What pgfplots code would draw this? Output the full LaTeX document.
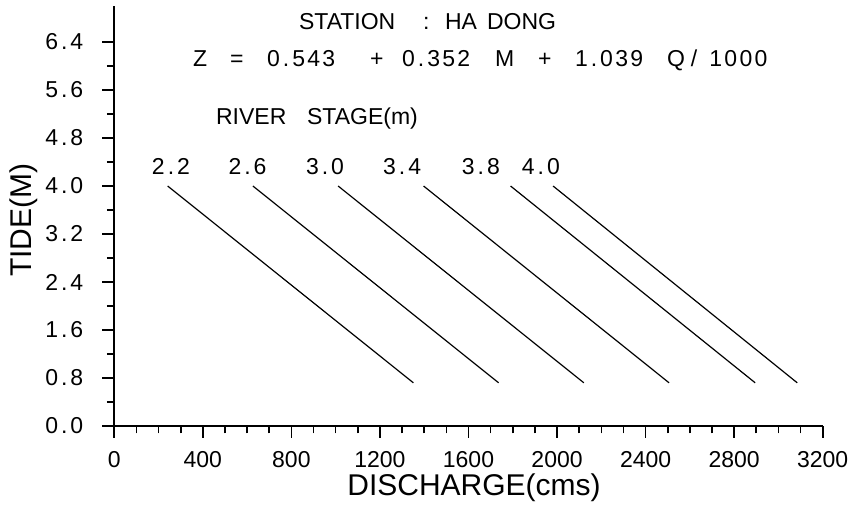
\documentclass[border=0pt]{standalone}
\usepackage{fontspec}
\setmainfont{Liberation Sans}
\usepackage{pgfplots}
\pgfplotsset{compat=1.18}
\newcommand\dt{\kern1.5pt.\kern1.5pt}
\newcommand\fs{\fontsize{11.5}{14}\selectfont}
\newcommand\wn[1]{{\addfontfeature{LetterSpace=10}#1}}
\begin{document}
\begin{tikzpicture}[font=\fs]
\path[use as bounding box] (-57.15pt,-41pt) rectangle (368.85pt,213pt);
\begin{axis}[
  at={(0,0)}, anchor=south west,
  scale only axis, width=354.2pt, height=210pt,
  xmin=0, xmax=3200, ymin=0, ymax=7.0,
  axis lines=left, axis line style={-, line width=0.9pt},
  xtick={0,400,800,1200,1600,2000,2400,2800,3200},
  ytick={0,0.8,1.6,2.4,3.2,4.0,4.8,5.6,6.4},
  minor x tick num=3, minor y tick num=1,
  tick align=outside,
  major tick length=6pt, minor tick length=3.75pt,
  tick style={line width=0.8pt, black},
  /pgf/number format/assume math mode=true,
  xticklabel style={font=\fs, yshift=-3pt, /pgf/number format/1000 sep={}},
  yticklabel style={font=\fs, xshift=-6pt, /pgf/number format/.cd, fixed, fixed zerofill, precision=1, dec sep={\kern1.5pt.\kern1.5pt}},
  clip=false,
]
\addplot[black, line width=0.6pt] coordinates {(241,4.0) (1351,0.72)};
\addplot[black, line width=0.6pt] coordinates {(626,4.0) (1736,0.72)};
\addplot[black, line width=0.6pt] coordinates {(1011,4.0) (2121,0.72)};
\addplot[black, line width=0.6pt] coordinates {(1397,4.0) (2506,0.72)};
\addplot[black, line width=0.6pt] coordinates {(1790,4.0) (2895,0.72)};
\addplot[black, line width=0.6pt] coordinates {(1982,4.0) (3085,0.72)};

\node[font=\fs, anchor=base west] at (axis cs:802.7,6.61) {\makebox[62pt][l]{STATION}\makebox[11pt][l]{:}HA\hspace{5pt}DONG};
\node[font=\fs, anchor=base west] at (axis cs:324,6.0) {\makebox[18.5pt][l]{Z}\makebox[18.5pt][l]{=}\makebox[51.5pt][l]{\wn{0\dt543}}\makebox[16pt][l]{+}\makebox[46.5pt][l]{\wn{0\dt352}}\makebox[21.5pt][l]{M}\makebox[18.5pt][l]{+}\makebox[46pt][l]{\wn{1\dt039}}Q\kern3pt/\kern6pt\wn{1000}};
\node[font=\fs, anchor=base west] at (axis cs:428,5.02) {\makebox[45.5pt][l]{RIVER}STAGE(m)};

\node[font=\fs, anchor=base] at (axis cs:256,4.2) {2\dt2};
\node[font=\fs, anchor=base] at (axis cs:602,4.2) {2\dt6};
\node[font=\fs, anchor=base] at (axis cs:952,4.2) {3\dt0};
\node[font=\fs, anchor=base] at (axis cs:1300,4.2) {3\dt4};
\node[font=\fs, anchor=base] at (axis cs:1656,4.2) {3\dt8};
\node[font=\fs, anchor=base] at (axis cs:1927,4.2) {4\dt0};

\node[font=\fontsize{15}{18}\selectfont] at ([yshift=-30.75pt]axis cs:1625,0) {DISCHARGE(cms)};
\node[font=\fontsize{15}{18}\selectfont, rotate=90] at ([xshift=-45.4pt]axis cs:0,3.43) {TIDE(M)};
\end{axis}
\end{tikzpicture}
\end{document}
